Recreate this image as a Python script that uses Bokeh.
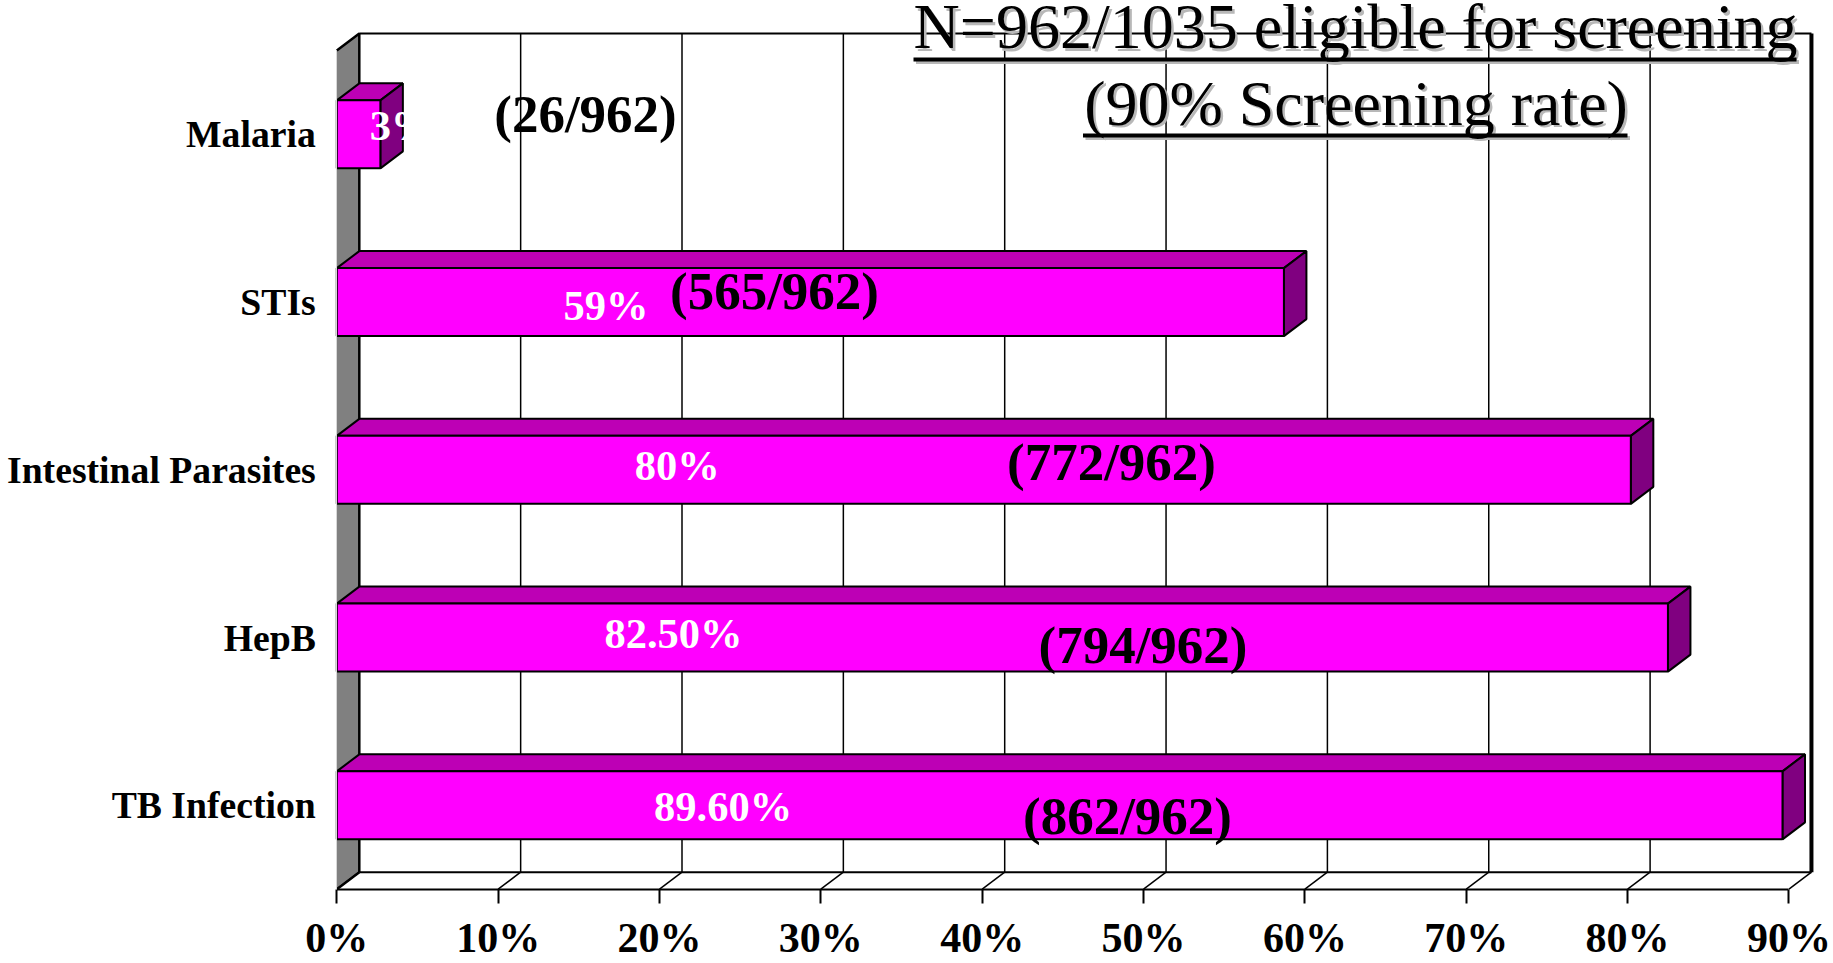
from bokeh.plotting import figure
from bokeh.models import FixedTicker, Range1d
from bokeh.core.properties import value
from bokeh.embed import file_html
from bokeh.resources import INLINE

# ---- data ----
categories = ["TB Infection", "HepB", "Intestinal Parasites", "STIs", "Malaria"]
screened_pct = [89.6, 82.5, 80.2, 58.7, 2.7]
pct_labels = ["89.60%", "82.50%", "80%", "59%", "3%"]
count_labels = ["(862/962)", "(794/962)", "(772/962)", "(565/962)", "(26/962)"]
x_ticks = [0, 10, 20, 30, 40, 50, 60, 70, 80, 90]
x_tick_labels = ["0%", "10%", "20%", "30%", "40%", "50%", "60%", "70%", "80%", "90%"]
title_lines = ["N=962/1035 eligible for screening", "(90% Screening rate)"]

# ---- layout (page pixels) ----
W, H = 1831, 963
PAGE_X0, PAGE_Y0 = 2.0, 0.0
LEFT, FLOOR, RIGHT, BOTTOM = 338.3, 888.7, 1833.0, 963.0
PX_PER_PCT = 16.135
PX_PER_CAT = 167.74
DX = 22.5 / PX_PER_PCT
DY = 17 / PX_PER_CAT
BAR_H = 68 / PX_PER_CAT
AXIS_MAX = 90
WALL_TOP = 5
TEXT_LIFT = 0.37


def fx(px):
    return (px - LEFT) / PX_PER_PCT


def fy(py):
    return (FLOOR - py) / PX_PER_CAT


SERIF = value("Liberation Serif")
FONT_BOLD = "bold"

p = figure(width=W, height=H, output_backend="svg", toolbar_location=None,
           x_range=Range1d(fx(PAGE_X0), fx(RIGHT)), y_range=Range1d(fy(BOTTOM), fy(PAGE_Y0)),
           min_border=0, outline_line_color=None,
           background_fill_color="white", border_fill_color="white")
p.grid.visible = False

# x axis
xa = p.xaxis[0]
xa.fixed_location = 0
xa.bounds = (0, AXIS_MAX)
xa.ticker = FixedTicker(ticks=x_ticks)
xa.major_label_overrides = dict(zip(x_ticks, x_tick_labels))
xa.major_tick_in = 0
xa.major_tick_out = 14
xa.minor_tick_line_color = None
xa.major_tick_line_color = "black"
xa.major_tick_line_width = 2
xa.axis_line_color = "black"
xa.axis_line_width = 2
xa.major_label_text_font = "Liberation Serif"
xa.major_label_text_font_style = "bold"
xa.major_label_text_font_size = "42px"
xa.major_label_text_color = "black"
xa.major_label_standoff = 12

# y axis
centers = [i + 0.5 for i in range(len(categories))]
ya = p.yaxis[0]
ya.fixed_location = 0
ya.bounds = (0, WALL_TOP)
ya.ticker = FixedTicker(ticks=centers)
ya.major_label_overrides = dict(zip(centers, categories))
ya.major_tick_line_color = None
ya.minor_tick_line_color = None
ya.axis_line_color = "#d8d8d8"
ya.axis_line_width = 1
ya.major_label_text_font = "Liberation Serif"
ya.major_label_text_font_style = "bold"
ya.major_label_text_font_size = "37.7px"
ya.major_label_text_color = "black"
ya.major_label_standoff = 15

# left wall
p.patch([0, DX, DX, 0], [0, DY, WALL_TOP + DY, WALL_TOP], fill_color="#808080", line_color=None)
p.line([0, DX, DX], [WALL_TOP, WALL_TOP + DY, DY], line_color="black", line_width=2.5)
p.line([0, DX], [0, DY], line_color="black", line_width=2.5)

# back gridlines
grid_x = [t + DX for t in x_ticks[1:-1]]
p.segment(grid_x, [DY] * len(grid_x), grid_x, [WALL_TOP + DY] * len(grid_x),
          line_color="black", line_width=1.5)
p.line([DX, AXIS_MAX + DX], [WALL_TOP + DY, WALL_TOP + DY], line_color="black", line_width=2)
p.line([AXIS_MAX + DX, AXIS_MAX + DX], [DY, WALL_TOP + DY], line_color="black", line_width=4)

# floor
p.line([DX, AXIS_MAX + DX], [DY, DY], line_color="black", line_width=2)
p.segment(x_ticks, [0] * len(x_ticks), [t + DX for t in x_ticks], [DY] * len(x_ticks),
          line_color="black", line_width=1.5)

# bars
for c, v in zip(centers, screened_pct):
    lo, hi = c - BAR_H / 2, c + BAR_H / 2
    p.patch([0, DX, v + DX, v], [hi, hi + DY, hi + DY, hi], fill_color="#bd00b5",
            line_color="black", line_width=2)
    p.patch([v, v + DX, v + DX, v], [lo, lo + DY, hi + DY, hi], fill_color="#800080",
            line_color="black", line_width=2)
p.hbar(y=centers, left=0, right=screened_pct, height=BAR_H, fill_color="#ff00ff",
       line_color="black", line_width=2)

# value labels (layout positions in page pixels)
pct_x_px = [724.6, 675, 678.7, 607.6, 403]
pct_y_px = [821.7, 649, 481, 320.7, 141]
count_x_px = [1129, 1144.5, 1113, 776, 587]
count_y_px = [835, 664, 481, 310, 133]

p.text([fx(a) for a in pct_x_px], [fy(b - TEXT_LIFT * 42) for b in pct_y_px], text=pct_labels,
       text_font=SERIF, text_font_style=FONT_BOLD, text_font_size="42.5px", text_color="white",
       text_align="center", text_baseline="alphabetic")
p.text([fx(a) for a in count_x_px], [fy(b - TEXT_LIFT * 53) for b in count_y_px], text=count_labels,
       text_font=SERIF, text_font_style=FONT_BOLD, text_font_size="53px", text_color="black",
       text_align="center", text_baseline="alphabetic")

# title with shadow and underline
title_x_px = [1357, 1357.5]
title_y_px = [50, 126.5]
ul_left_px = [915, 1084.5]
ul_right_px = [1798, 1629]
ul_y_px = [59, 135]
for off, col in ((2.5, "#b8b8b8"), (0, "black")):
    p.text([fx(a + off) for a in title_x_px], [fy(b + off - TEXT_LIFT * 64) for b in title_y_px], text=title_lines,
           text_font=SERIF, text_font_size="64px", text_color=col,
           text_align="center", text_baseline="alphabetic")
    p.segment([fx(a + off) for a in ul_left_px], [fy(b + off) for b in ul_y_px],
              [fx(a + off) for a in ul_right_px], [fy(b + off) for b in ul_y_px],
              line_color=col, line_width=4)

open("out.html", "w").write(file_html(p, INLINE))
